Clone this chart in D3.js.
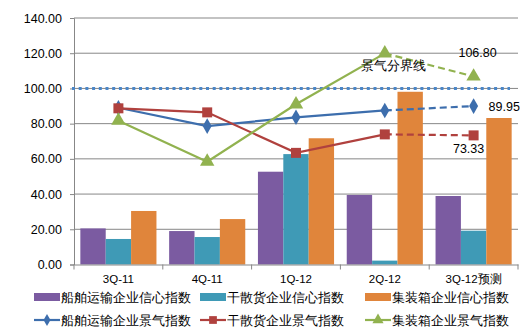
<!DOCTYPE html>
<html><head><meta charset="utf-8">
<script src="https://cdn.jsdelivr.net/npm/d3@7"></script>
<style>body{margin:0;background:#fff;} text{font-family:"Liberation Sans","DejaVu Sans",sans-serif;}</style>
</head><body>
<svg id="c" width="527" height="334"></svg>
<script>
const categories = ["3Q-11","4Q-11","1Q-12","2Q-12","3Q-12预测"];
const barSeriesNames = ["船舶运输企业信心指数","干散货企业信心指数","集装箱企业信心指数"];
const shipConfidence = [20.5, 19.0, 52.7, 39.5, 38.9];
const bulkConfidence = [14.5, 15.6, 62.7, 2.2, 19.2];
const containerConfidence = [30.4, 25.8, 71.7, 98.1, 83.2];
const lineSeriesNames = ["船舶运输企业景气指数","干散货企业景气指数","集装箱企业景气指数"];
const shipProsperity = [89.0, 78.6, 83.6, 87.5, 89.95];
const bulkProsperity = [88.7, 86.4, 63.4, 73.9, 73.33];
const containerProsperity = [81.7, 58.4, 91.0, 119.9, 106.8];
const yTicks = [0,20,40,60,80,100,120,140];
const boundaryValue = 100;
const boundaryLabel = "景气分界线";

const barColors = ["#7B5BA1","#3F9AB6","#E0853B"];
const lineColors = ["#3D6EAD","#B0413E","#91B24F"];

const svg = d3.select("#c");
const x0 = 74, x1 = 518, yTop = 18, yBot = 264.5;
const x = d3.scaleBand().domain(categories).range([x0,x1]).paddingInner(0).paddingOuter(0);
const y = d3.scaleLinear().domain([0,140]).range([yBot,yTop]);
const xb = d3.scaleBand().domain([0,1,2]).range([0, x.bandwidth()]).paddingOuter(0.25).paddingInner(0);

// gridlines
svg.append("g").selectAll("line").data(yTicks.filter(d=>d>0)).join("line")
  .attr("x1",x0).attr("x2",x1).attr("y1",d=>y(d)).attr("y2",d=>y(d))
  .attr("stroke","#878787").attr("stroke-width",1);

// y axis
const yAxis = svg.append("g").attr("transform",`translate(${x0},0)`)
  .call(d3.axisLeft(y).tickValues(yTicks).tickFormat(d3.format(".2f")).tickSize(4).tickPadding(8));
yAxis.select(".domain").attr("stroke","#878787");
yAxis.selectAll(".tick line").attr("stroke","#878787");
yAxis.selectAll("text").attr("font-size",12.5).attr("fill","#000");

// bars
const barData = [shipConfidence, bulkConfidence, containerConfidence];
barData.forEach((vals,si)=>{
  svg.append("g").selectAll("rect").data(vals).join("rect")
    .attr("x",(d,i)=>x(categories[i])+xb(si))
    .attr("width",xb.bandwidth())
    .attr("y",d=>y(d)).attr("height",d=>y(0)-y(d))
    .attr("fill",barColors[si]);
});

// x axis
const xAxis = svg.append("g").attr("transform",`translate(0,${yBot})`)
  .call(d3.axisBottom(x).tickSize(0).tickPadding(10));
xAxis.select(".domain").attr("stroke","#878787");
xAxis.selectAll("text").attr("font-size",11.5).attr("fill","#000");
svg.append("g").selectAll("line").data(d3.range(categories.length+1)).join("line")
  .attr("x1",i=>x0+i*x.bandwidth()).attr("x2",i=>x0+i*x.bandwidth())
  .attr("y1",yBot).attr("y2",yBot+5).attr("stroke","#878787");

// boundary line
svg.append("line").attr("x1",x0-2).attr("x2",510).attr("y1",y(boundaryValue)).attr("y2",y(boundaryValue))
  .attr("stroke","#4A86C8").attr("stroke-width",3).attr("stroke-dasharray","3,3.7");

// lines
const lineData = [shipProsperity, bulkProsperity, containerProsperity];
const cx = i => x(categories[i]) + x.bandwidth()/2;
const lg = d3.line().x(d=>cx(d.i)).y(d=>y(d.v));
const shapes = [d3.symbolDiamond, d3.symbolSquare, d3.symbolTriangle];
const sizes = [70, 100, 90];
lineData.forEach((vals,si)=>{
  const pts = vals.map((v,i)=>({v,i}));
  const n = pts.length;
  svg.append("path").attr("d",lg(pts.slice(0,n-1))).attr("fill","none")
    .attr("stroke",lineColors[si]).attr("stroke-width",2.2);
  svg.append("path").attr("d",lg(pts.slice(n-2))).attr("fill","none")
    .attr("stroke",lineColors[si]).attr("stroke-width",2.2).attr("stroke-dasharray","7,4");
  svg.append("g").selectAll("path").data(pts).join("path")
    .attr("transform",d=>`translate(${cx(d.i)},${y(d.v)})`)
    .attr("d",d3.symbol().type(shapes[si]).size(sizes[si]))
    .attr("fill",lineColors[si]);
});

// annotations
svg.append("text").attr("x",361).attr("y",70).attr("font-size",13).text(boundaryLabel);
const last = categories.length-1;
svg.append("text").attr("x",cx(last)+4).attr("y",y(containerProsperity[last])-19).attr("text-anchor","middle").attr("font-size",12.5).text(d3.format(".2f")(containerProsperity[last]));
svg.append("text").attr("x",cx(last)+15).attr("y",y(shipProsperity[last])+4.5).attr("font-size",12.5).text(d3.format(".2f")(shipProsperity[last]));
svg.append("text").attr("x",cx(last)-5).attr("y",y(bulkProsperity[last])+18).attr("text-anchor","middle").attr("font-size",12.5).text(d3.format(".2f")(bulkProsperity[last]));

// legend
const legX = [34, 200, 365];
const lgd = svg.append("g");
barSeriesNames.forEach((n,i)=>{
  lgd.append("rect").attr("x",legX[i]).attr("y",293).attr("width",26).attr("height",8).attr("fill",barColors[i]);
  lgd.append("text").attr("x",legX[i]+27).attr("y",302).attr("font-size",13).text(n);
});
lineSeriesNames.forEach((n,i)=>{
  lgd.append("line").attr("x1",legX[i]).attr("x2",legX[i]+26).attr("y1",320).attr("y2",320).attr("stroke",lineColors[i]).attr("stroke-width",2.2);
  lgd.append("path").attr("transform",`translate(${legX[i]+13},320)`).attr("d",d3.symbol().type(shapes[i]).size(sizes[i]*0.6)).attr("fill",lineColors[i]);
  lgd.append("text").attr("x",legX[i]+27).attr("y",325).attr("font-size",13).text(n);
});
</script>
</body></html>
